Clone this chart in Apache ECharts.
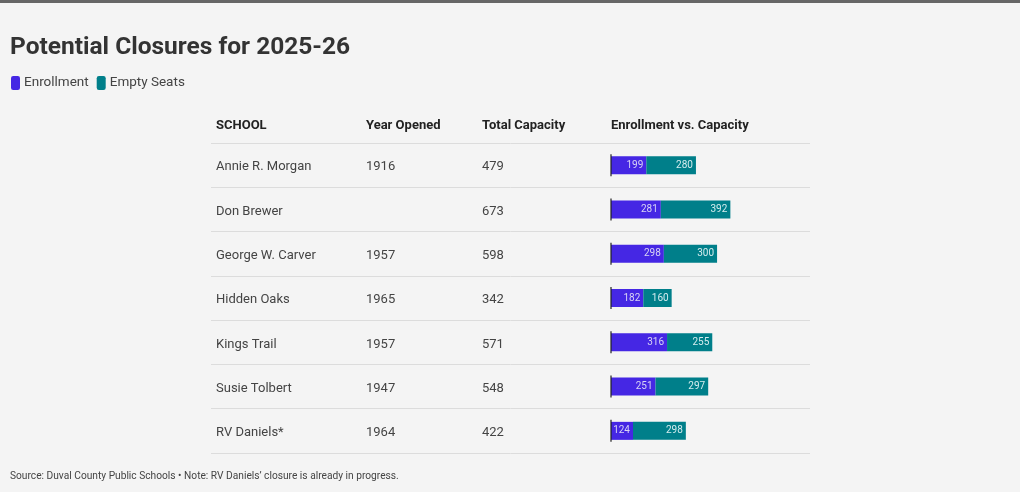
<!DOCTYPE html>
<html><head><meta charset="utf-8">
<script src="https://cdn.jsdelivr.net/npm/echarts@6/dist/echarts.min.js"></script>
<style>html,body{margin:0;padding:0;background:#f4f4f4}#c{width:1020px;height:492px}</style>
</head><body><div id="c"></div>
<script>
const schools = ['Annie R. Morgan','Don Brewer','George W. Carver','Hidden Oaks','Kings Trail','Susie Tolbert','RV Daniels*'];
const yearOpened = ['1916','','1957','1965','1957','1947','1964'];
const capacity = [479,673,598,342,571,548,422];
const enrollment = [199,281,298,182,316,251,124];
const emptySeats = [280,392,300,160,255,297,298];
const headers = ['SCHOOL','Year Opened','Total Capacity','Enrollment vs. Capacity'];

const FONT = 'Roboto, "Noto Sans", sans-serif';
const chart = echarts.init(document.getElementById('c'), null, {renderer:'canvas'});
const rowLabels = schools.map((s,i)=>s+'|'+yearOpened[i]+'|'+capacity[i]);

chart.setOption({
  backgroundColor:'#f4f4f4',
  animation:false,
  title:{text:'Potential Closures for 2025-26',left:5,top:30,
    textStyle:{fontFamily:FONT,fontSize:24.5,fontWeight:'bold',color:'#333'}},
  legend:{left:6,top:71,icon:'roundRect',itemWidth:9,itemHeight:14,itemGap:8,
    textStyle:{fontFamily:FONT,fontSize:13.5,color:'#444',padding:[0,0,0,-1]},
    data:['Enrollment','Empty Seats']},
  graphic:[
    {type:'rect',left:0,top:0,shape:{width:1020,height:3},style:{fill:'#666'}},
    {type:'text',left:216,top:119,style:{text:headers[0],font:'bold 13px '+FONT,fill:'#222'}},
    {type:'text',left:366,top:119,style:{text:headers[1],font:'bold 13px '+FONT,fill:'#222'}},
    {type:'text',left:482,top:119,style:{text:headers[2],font:'bold 13px '+FONT,fill:'#222'}},
    {type:'text',left:611,top:119,style:{text:headers[3],font:'bold 13px '+FONT,fill:'#222'}},
    {type:'text',left:10,top:471,style:{text:'Source: Duval County Public Schools \u2022 Note: RV Daniels\u2019 closure is already in progress.',font:'10.2px '+FONT,fill:'#444'}}
  ],
  grid:[
    {left:211,right:210,top:143,bottom:39},
    {left:611,right:210,top:143,bottom:39}
  ],
  xAxis:[
    {gridIndex:0,type:'value',min:0,max:1,show:false},
    {gridIndex:1,type:'value',min:0,max:1122,show:false}
  ],
  yAxis:[
    {gridIndex:0,type:'category',inverse:true,data:rowLabels,
      axisLine:{show:false},axisTick:{show:false},
      splitLine:{show:true,lineStyle:{color:'#dcdcdc',width:1}},
      axisLabel:{inside:true,margin:5,
        formatter:function(v){const p=v.split('|');return '{a|'+p[0]+'}{b|'+p[1]+'}{c|'+p[2]+'}';},
        rich:{a:{width:150,padding:[4,0,0,0],fontFamily:FONT,fontSize:13,color:'#444'},
              b:{width:116,padding:[4,0,0,0],fontFamily:FONT,fontSize:13,color:'#444'},
              c:{width:100,padding:[4,0,0,0],fontFamily:FONT,fontSize:13,color:'#444'}}}},
    {gridIndex:1,type:'category',inverse:true,data:schools,show:false}
  ],
  series:[
    {name:'Enrollment',type:'bar',stack:'s',xAxisIndex:1,yAxisIndex:1,data:enrollment,barWidth:18,
      itemStyle:{color:'#4527e4'},
      label:{show:true,position:'insideRight',distance:3,fontFamily:FONT,fontSize:10,color:'#d8d4f4'}},
    {name:'Empty Seats',type:'bar',stack:'s',xAxisIndex:1,yAxisIndex:1,data:emptySeats,barWidth:18,
      itemStyle:{color:'#007f8a'},
      label:{show:true,position:'insideRight',distance:3,fontFamily:FONT,fontSize:10,color:'#d4ecee'}},
    {type:'scatter',xAxisIndex:1,yAxisIndex:1,data:enrollment.map(()=>0),symbol:'rect',symbolSize:[1.5,22],
      itemStyle:{color:'#222'},silent:true,z:5}
  ]
});
</script></body></html>
